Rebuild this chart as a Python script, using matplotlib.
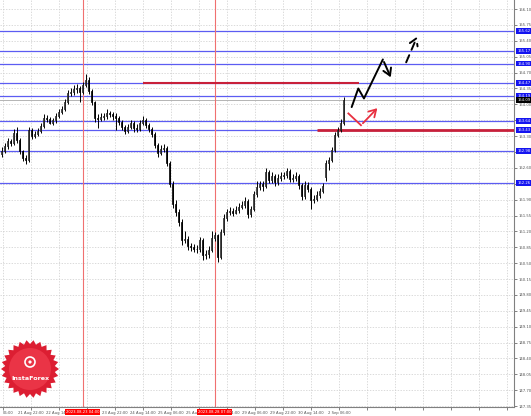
import numpy as np
import matplotlib.pyplot as plt
from matplotlib.patches import Polygon, Circle
from matplotlib.transforms import blended_transform_factory

# hourly candles (close / high / low)
closes = [
    152.97, 153.08, 153.19, 153.15, 153.37, 153.21, 152.97, 152.82, 152.77, 153.43,
    153.30, 153.35, 153.41, 153.52, 153.70, 153.68, 153.60, 153.65, 153.74, 153.83,
    153.90, 154.05, 154.25, 154.27, 154.34, 154.36, 154.27, 154.43, 154.54, 154.29,
    154.05, 153.70, 153.68, 153.72, 153.74, 153.81, 153.79, 153.74, 153.70, 153.61,
    153.50, 153.41, 153.50, 153.59, 153.48, 153.46, 153.59, 153.66, 153.55, 153.46,
    153.35, 153.10, 152.93, 153.02, 153.04, 152.71, 152.25, 151.80, 151.63, 151.41,
    151.01, 151.03, 150.88, 150.86, 150.82, 150.81, 151.01, 150.68, 150.70, 150.79,
    151.05, 151.12, 150.64, 151.19, 151.50, 151.63, 151.65, 151.61, 151.67, 151.74,
    151.78, 151.87, 151.58, 151.69, 152.02, 152.18, 152.25, 152.20, 152.51, 152.33,
    152.42, 152.29, 152.38, 152.42, 152.44, 152.53, 152.35, 152.38, 152.42, 152.22,
    151.98, 152.22, 152.14, 151.89, 151.91, 152.00, 152.09, 152.20, 152.70, 152.77,
    152.99, 153.32, 153.43, 153.60, 154.09,
]
highs = [
    153.05, 153.14, 153.26, 153.24, 153.45, 153.50, 153.25, 153.00, 152.88, 153.50,
    153.47, 153.42, 153.47, 153.58, 153.78, 153.76, 153.72, 153.69, 153.80, 153.90,
    153.97, 154.12, 154.31, 154.36, 154.42, 154.44, 154.40, 154.50, 154.66, 154.60,
    154.33, 154.08, 153.78, 153.80, 153.82, 153.90, 153.86, 153.83, 153.80, 153.75,
    153.65, 153.55, 153.57, 153.66, 153.63, 153.56, 153.66, 153.74, 153.70, 153.60,
    153.50, 153.40, 153.15, 153.10, 153.12, 153.08, 152.76, 152.30, 151.90, 151.70,
    151.48, 151.20, 151.10, 150.95, 150.92, 150.90, 151.08, 151.05, 150.80, 150.88,
    151.20, 151.18, 151.14, 151.25, 151.58, 151.70, 151.74, 151.72, 151.75, 151.82,
    151.86, 151.95, 151.92, 151.76, 152.10, 152.30, 152.32, 152.30, 152.60, 152.56,
    152.50, 152.47, 152.46, 152.50, 152.52, 152.60, 152.57, 152.46, 152.50, 152.46,
    152.26, 152.30, 152.28, 152.18, 152.00, 152.08, 152.16, 152.26, 152.78, 152.84,
    153.05, 153.38, 153.50, 153.68, 154.16,
]
lows = [
    152.85, 152.92, 153.02, 153.08, 153.10, 153.15, 152.90, 152.75, 152.68, 152.72,
    153.24, 153.25, 153.30, 153.36, 153.48, 153.62, 153.56, 153.55, 153.58, 153.70,
    153.78, 153.86, 154.00, 154.18, 154.20, 154.24, 154.05, 154.22, 154.38, 154.22,
    153.98, 153.62, 153.48, 153.63, 153.66, 153.68, 153.72, 153.66, 153.43, 153.55,
    153.44, 153.35, 153.36, 153.45, 153.40, 153.40, 153.42, 153.55, 153.48, 153.40,
    153.28, 153.03, 152.85, 152.88, 152.95, 152.64, 152.18, 151.72, 151.55, 151.33,
    150.90, 150.95, 150.80, 150.76, 150.75, 150.72, 150.75, 150.58, 150.60, 150.62,
    150.74, 150.98, 150.52, 150.60, 151.12, 151.44, 151.56, 151.55, 151.58, 151.60,
    151.70, 151.72, 151.50, 151.52, 151.64, 151.96, 152.12, 152.10, 152.16, 152.26,
    152.26, 152.20, 152.22, 152.32, 152.36, 152.38, 152.28, 152.28, 152.30, 152.14,
    151.90, 151.92, 152.06, 151.70, 151.82, 151.86, 151.94, 152.04, 152.32, 152.55,
    152.72, 152.95, 153.28, 153.38, 153.55,
]
opens = [152.90] + closes[:-1]
opens[108] = 152.40  # gap after the weekend

level_prices = [155.62, 155.17, 154.90, 154.47, 154.19, 153.64, 153.43, 152.98, 152.26]
last_price = 154.09
y_ticks = [156.10, 155.75, 155.40, 155.05, 154.70, 154.35, 154.00, 153.65, 153.30,
           152.95, 152.60, 152.25, 151.90, 151.55, 151.20, 150.85, 150.50, 150.15,
           149.80, 149.45, 149.10, 148.75, 148.40, 148.05, 147.70, 147.35]
time_labels = ["06:00", "21 Aug 22:00", "22 Aug 14:00", "23 Aug 06:00", "23 Aug 22:00",
               "24 Aug 14:00", "25 Aug 06:00", "25 Aug 22:00", "28 Aug 14:00",
               "29 Aug 06:00", "29 Aug 22:00", "30 Aug 14:00", "2 Sep 06:00"]
marker_bars = [27, 71]
marker_labels = ["2023.08.23 04:00", "2023.08.28 07:00"]

# drawn forecast (bar position, price)
zigzag_x = [116.7, 118.9, 120.8, 127.1, 130.1]
zigzag_y = [153.94, 154.35, 154.13, 154.99, 154.54]
dashed_x = [134.5, 138.9]
dashed_y = [154.87, 155.55]
pullback_x = [115.6, 119.8, 125.9]
pullback_y = [153.80, 153.54, 153.96]
resist_line = (47, 119, 154.47)     # start bar, end bar, price
support_line = (105, 172, 153.43)

FS = 2.7

fig = plt.figure(figsize=(5.31, 4.16), dpi=100)
ax = fig.add_axes([0, 9 / 416, 514 / 531, 407 / 416])
ax.set_xlim(-0.5, 170.8)
ax.set_ylim(147.33, 156.30)

# grid
grid_x = np.arange(0.5, 171, 9.33)
for gx in grid_x:
    ax.axvline(gx, color="#cccccc", lw=0.5, ls=(0, (2, 2)), zorder=0)
for gy in y_ticks:
    ax.axhline(gy, color="#cccccc", lw=0.5, ls=(0, (2, 2)), zorder=0)

# levels
for p in level_prices:
    ax.axhline(p, color="#5c5cf2", lw=0.9, zorder=1)
ax.axhline(last_price, color="#b4b4b4", lw=0.7, zorder=1)
for b in marker_bars:
    ax.axvline(b, color="#f07070", lw=0.8, zorder=1)

ax.hlines(resist_line[2], resist_line[0], resist_line[1], color="#c8203a", lw=1.5, zorder=3)
ax.hlines(support_line[2], support_line[0], support_line[1], color="#c8203a", lw=2.0, zorder=3)

# candles
x = np.arange(len(closes))
o = np.array(opens)
c = np.array(closes)
ax.vlines(x, lows, highs, color="black", lw=0.7, zorder=4)
up = c >= o
ax.bar(x[up], (c - o)[up], bottom=o[up], width=0.62, color="white",
       edgecolor="black", lw=0.5, zorder=5)
ax.bar(x[~up], (o - c)[~up], bottom=c[~up], width=0.62, color="black",
       edgecolor="black", lw=0.5, zorder=5)

# forecast arrows
ax.plot(zigzag_x[:-1], zigzag_y[:-1], color="black", lw=1.4, zorder=6, solid_capstyle="round")
ax.annotate("", xy=(zigzag_x[-1], zigzag_y[-1]), xytext=(zigzag_x[-2], zigzag_y[-2]),
            arrowprops=dict(arrowstyle="->,head_length=0.5,head_width=0.3", color="black", lw=1.4),
            zorder=6)
ax.annotate("", xy=(dashed_x[1], dashed_y[1]), xytext=(dashed_x[0], dashed_y[0]),
            arrowprops=dict(arrowstyle="->,head_length=0.5,head_width=0.3", color="black",
                            lw=1.4, ls=(0, (4, 3))), zorder=6)
ax.plot(pullback_x[:2], pullback_y[:2], color="#e83040", lw=1.3, zorder=6)
ax.annotate("", xy=(pullback_x[2], pullback_y[2]), xytext=(pullback_x[1], pullback_y[1]),
            arrowprops=dict(arrowstyle="->,head_length=0.5,head_width=0.3", color="#e83040", lw=1.3),
            zorder=6)

# axes look
for s in ["top", "left"]:
    ax.spines[s].set_visible(False)
for s in ["right", "bottom"]:
    ax.spines[s].set_color("#808080")
    ax.spines[s].set_linewidth(0.8)
ax.yaxis.tick_right()
ax.set_yticks(y_ticks)
ax.set_yticklabels([f"{v:.2f}" for v in y_ticks])
ax.set_xticks(grid_x)
ax.set_xticklabels(time_labels + [""] * (len(grid_x) - len(time_labels)))
ax.tick_params(axis="both", labelsize=FS, colors="#505050", length=2, width=0.5, pad=1.2)
ax.get_xticklabels()[0].set_ha("left")

ytr = blended_transform_factory(ax.transAxes, ax.transData)
for p in level_prices:
    ax.text(1.006, p, f"{p:.2f}", transform=ytr, fontsize=FS, color="white", ha="left",
            va="center", clip_on=False, zorder=10,
            bbox=dict(boxstyle="square,pad=0.25", fc="#1414f0", ec="none"))
ax.text(1.006, last_price, f"{last_price:.2f}", transform=ytr, fontsize=FS, color="white",
        ha="left", va="center", clip_on=False, zorder=10,
        bbox=dict(boxstyle="square,pad=0.25", fc="black", ec="none"))

xtr = blended_transform_factory(ax.transData, ax.transAxes)
for b, lab in zip(marker_bars, marker_labels):
    ax.text(b, -0.012, lab, transform=xtr, fontsize=FS, color="white", ha="center",
            va="center", clip_on=False, zorder=10,
            bbox=dict(boxstyle="square,pad=0.3", fc="#ff0000", ec="none"))

# logo
lax = fig.add_axes([0, 16 / 416, 60 / 531, 60 / 416])
lax.set_xlim(0, 60)
lax.set_ylim(0, 60)
lax.axis("off")
n = 26
ang = np.linspace(0, 2 * np.pi, 2 * n, endpoint=False)
rad = np.where(np.arange(2 * n) % 2 == 0, 29, 25)
lax.add_patch(Polygon(np.c_[30 + rad * np.cos(ang), 31 + rad * np.sin(ang)],
                      closed=True, fc="#dc1e32", ec="none"))
lax.add_patch(Circle((30, 31), 21, fc="#ea3446", ec="none"))
lax.add_patch(Circle((30, 38), 5, fc="none", ec="white", lw=1.2))
lax.add_patch(Circle((30, 38), 1.6, fc="white", ec="none"))
lax.text(30, 22, "InstaForex", color="white", fontsize=4.6, fontweight="bold",
         ha="center", va="center")

fig.savefig("out.png", dpi=100, facecolor="white")
